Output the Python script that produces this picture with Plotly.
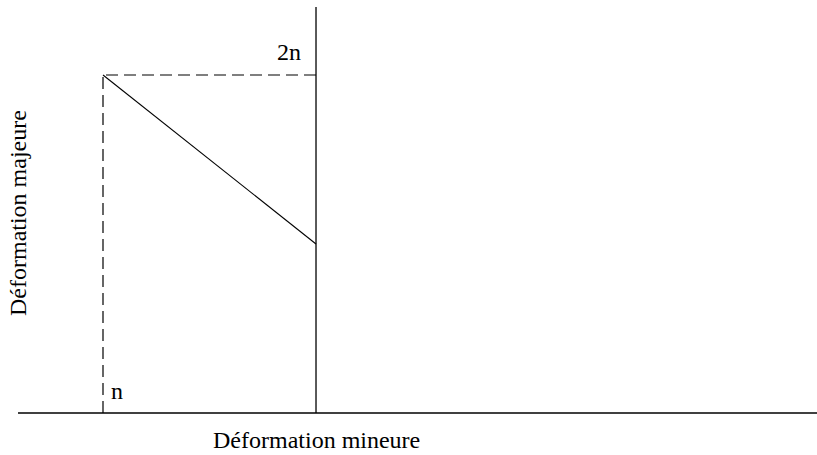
import plotly.graph_objects as go

# Data (strain values)
n_value = 0.2
corner = (-0.2, 0.4)          # (minor, major) at left corner
line_end = (0.0, 0.2)         # intercept on major axis
x_axis_extent = (-0.2798, 0.4704)
y_axis_extent = (0.0, 0.4819)
labels = ["2n", "n"]
axis_titles = ["Déformation mineure", "Déformation majeure"]

FONT = "'Liberation Serif', 'Times New Roman', Times, serif"

fig = go.Figure()

# horizontal axis line
fig.add_trace(go.Scatter(x=[x_axis_extent[0], x_axis_extent[1]], y=[0, 0], mode="lines",
                         line=dict(color="black", width=1.3), hoverinfo="skip"))
# vertical axis line
fig.add_trace(go.Scatter(x=[0, 0], y=[y_axis_extent[0], y_axis_extent[1]], mode="lines",
                         line=dict(color="black", width=1.3), hoverinfo="skip"))
# dashed lines
fig.add_trace(go.Scatter(x=[corner[0], corner[0]], y=[0, corner[1]], mode="lines",
                         line=dict(color="black", width=1.2, dash="12px,6px"), hoverinfo="skip"))
fig.add_trace(go.Scatter(x=[0, corner[0]], y=[corner[1], corner[1]], mode="lines",
                         line=dict(color="black", width=1.2, dash="12px,6px"), hoverinfo="skip"))
# solid diagonal
fig.add_trace(go.Scatter(x=[corner[0], line_end[0]], y=[corner[1], line_end[1]], mode="lines",
                         line=dict(color="black", width=1.1), hoverinfo="skip"))

fig.add_annotation(x=0, y=corner[1], text=labels[0], showarrow=False,
                   xanchor="center", yanchor="middle", xshift=-27, yshift=23,
                   font=dict(family=FONT, size=24, color="black"))
fig.add_annotation(x=corner[0], y=0, text=labels[1], showarrow=False,
                   xanchor="center", yanchor="middle", xshift=14, yshift=22,
                   font=dict(family=FONT, size=24, color="black"))

fig.add_annotation(x=0, y=0, xref="x", yref="paper", text=axis_titles[0], showarrow=False,
                   xanchor="center", yanchor="middle", yshift=-17,
                   font=dict(family=FONT, size=24, color="black"))
fig.add_annotation(x=0, y=0.2367, xref="paper", yref="y", text=axis_titles[1], showarrow=False,
                   textangle=-90, xanchor="center", yanchor="middle", xshift=10,
                   font=dict(family=FONT, size=24, color="black"))

fig.update_xaxes(range=[-0.2892, 0.4704], visible=False, fixedrange=True)
fig.update_yaxes(range=[-0.01183, 0.4805], visible=False, fixedrange=True)
fig.update_layout(width=817, height=455, margin=dict(l=8, r=0, t=7, b=32),
                  showlegend=False, plot_bgcolor="white", paper_bgcolor="white",
                  font=dict(family=FONT))

fig.write_html("out.html", config={"displayModeBar": False},
               post_script="document.body.style.margin='0';")
